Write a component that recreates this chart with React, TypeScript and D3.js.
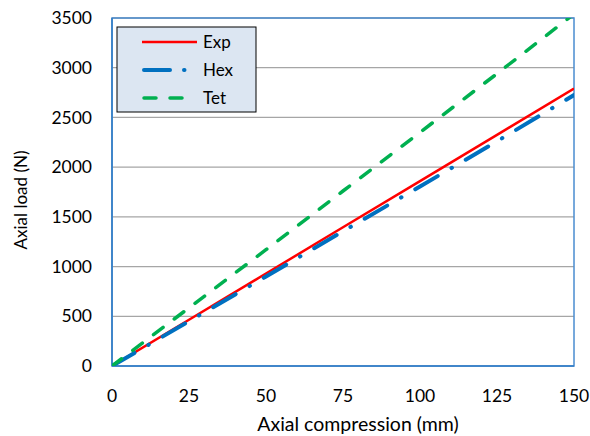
import React from "react";
import * as d3 from "d3";

const compression = [0, 25, 50, 75, 100, 125, 150];
const expLoad = [0, 465, 930, 1395, 1860, 2325, 2790];
const hexLoad = [0, 450, 900, 1355, 1805, 2260, 2725];
const tetLoad = [0, 585, 1170, 1760, 2350, 2940, 3540];
const xTicks = [0, 25, 50, 75, 100, 125, 150];
const yTicks = [0, 500, 1000, 1500, 2000, 2500, 3000, 3500];
const seriesNames = ["Exp", "Hex", "Tet"];

const W = 590, H = 436;
const L = 112, R = 574, T = 18, B = 366;
const FONT = "Lato, 'Open Sans', sans-serif";

export default function App() {
  const x = d3.scaleLinear().domain([0, 150]).range([L, R]);
  const y = d3.scaleLinear().domain([0, 3500]).range([B, T]);
  const line = d3.line<[number, number]>().x(d => x(d[0])).y(d => y(d[1]));
  const pts = (vals: number[]) => compression.map((c, i) => [c, vals[i]] as [number, number]);

  const styles = [
    { color: "#FF0000", width: 2.5, dash: "none", cap: "butt" },
    { color: "#0070C0", width: 4, dash: "26,16,0.5,16", cap: "round" },
    { color: "#00B050", width: 3.5, dash: "12,14", cap: "round" },
  ];
  const data = [expLoad, hexLoad, tetLoad];

  return (
    <svg width={W} height={H} style={{ position: "absolute", left: 0, top: 0, background: "#fff" }} fontFamily={FONT}>
      <defs>
        <clipPath id="plot">
          <rect x={L} y={T} width={R - L} height={B - T} />
        </clipPath>
      </defs>
      {yTicks.filter(v => v > 0).map(v => (
        <line key={v} x1={L} x2={R} y1={y(v)} y2={y(v)} stroke="#A6A6A6" strokeWidth={1.3} />
      ))}
      <rect x={L} y={T} width={R - L} height={B - T} fill="none" stroke="#4A8CD0" strokeWidth={1.5} />
      <line x1={L} x2={L} y1={T} y2={B} stroke="#2F7BC4" strokeWidth={1.5} />
      <line x1={L} x2={R} y1={B} y2={B} stroke="#2F7BC4" strokeWidth={1.5} />
      <g clipPath="url(#plot)">
        {data.map((d, i) => (
          <path key={i} d={line(pts(d)) || ""} fill="none" stroke={styles[i].color}
            strokeWidth={styles[i].width} strokeDasharray={styles[i].dash}
            strokeLinecap={styles[i].cap as any} />
        ))}
      </g>
      {yTicks.map(v => (
        <text key={v} x={92} y={y(v)} dy="0.35em" textAnchor="end" fontSize={17.5} fill="#000">{v}</text>
      ))}
      {xTicks.map(v => (
        <text key={v} x={x(v)} y={402} textAnchor="middle" fontSize={17.5} fill="#000">{v}</text>
      ))}
      <text x={358} y={431} textAnchor="middle" fontSize={19.5} fill="#000">Axial compression (mm)</text>
      <text transform={`translate(27,200) rotate(-90)`} textAnchor="middle" fontSize={17} fill="#000">Axial load (N)</text>
      <g>
        <rect x={117} y={27} width={139} height={85} fill="#DCE6F2" stroke="#000" strokeWidth={1} />
        {seriesNames.map((n, i) => {
          const ly = 42 + i * 28;
          return (
            <g key={n}>
              <line x1={i === 0 ? 142 : 144} x2={i === 0 ? 197 : 196} y1={ly} y2={ly} stroke={styles[i].color}
                strokeWidth={styles[i].width} strokeDasharray={i === 1 ? "26,14,0.5,30" : styles[i].dash}
                strokeLinecap={styles[i].cap as any} />
              <text x={203} y={ly} dy="0.35em" fontSize={17} fill="#000">{n}</text>
            </g>
          );
        })}
      </g>
    </svg>
  );
}
